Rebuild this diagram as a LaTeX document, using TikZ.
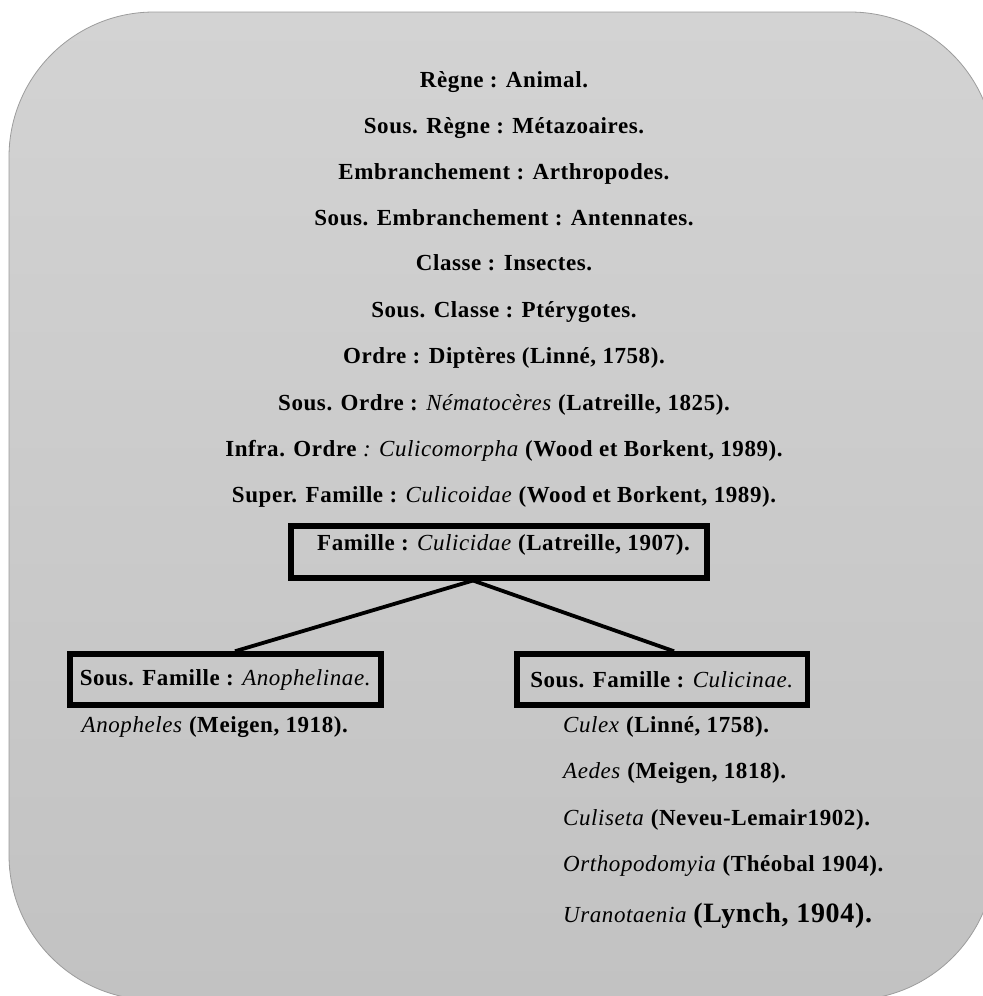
\documentclass[tikz,border=0pt]{standalone}
\usepackage{fontspec}
\setmainfont{Liberation Serif}
\newfontfamily\reffont[LetterSpace=2.5]{Liberation Serif}
\usetikzlibrary{calc}
\definecolor{bgtop}{HTML}{D3D3D3}
\definecolor{bgbot}{HTML}{C2C2C2}
\definecolor{bgedge}{HTML}{9C9C9C}
\begin{document}
\begin{tikzpicture}[x=1bp,y=-1bp,
  txt/.style={font=\reffont\fontsize{23bp}{27bp}\selectfont\bfseries, inner sep=0pt, anchor=base},
  ctr/.style={txt},
  lft/.style={txt, anchor=base west},
  taxbox/.style={draw=black, line width=5.5bp, inner sep=0pt, font=\reffont\fontsize{23bp}{27bp}\selectfont\bfseries},
  link/.style={draw=black, line width=3.8bp}
]
\useasboundingbox (0,0) rectangle (983,996);
\begin{scope}
\clip (0,0) rectangle (983,996);
\path[top color=bgtop, bottom color=bgbot, draw=bgedge, line width=0.8bp, rounded corners=145bp]
  (9,12) rectangle (995,1000);
\end{scope}
\node[ctr] (l1) at (504,87) {Règne : Animal.};
\node[ctr] (l2) at (504,133.5) {Sous. Règne : Métazoaires.};
\node[ctr] (l3) at (504,179) {Embranchement : Arthropodes.};
\node[ctr] (l4) at (504,225) {Sous. Embranchement : Antennates.};
\node[ctr] (l5) at (504,270.5) {Classe : Insectes.};
\node[ctr] (l6) at (504,317) {Sous. Classe : Ptérygotes.};
\node[ctr] (l7) at (504,363) {Ordre : Diptères (Linné, 1758).};
\node[ctr] (l8) at (504,410) {Sous. Ordre : \textit{\mdseries Nématocères} (Latreille, 1825).};
\node[ctr] (l9) at (504,456) {Infra. Ordre\textit{\mdseries\ : Culicomorpha} (Wood et Borkent, 1989).};
\node[ctr] (l10) at (504,502) {Super. Famille : \textit{\mdseries Culicoidae} (Wood et Borkent, 1989).};
\node[taxbox, minimum width=416bp, text height=25bp, text depth=27bp, anchor=north] (fam) at (499,523)
  {\hspace*{9bp}Famille : \textit{\mdseries Culicidae} (Latreille, 1907).};
\node[taxbox, minimum width=311bp, minimum height=51bp] (anoph) at (225.5,679.5)
  {Sous. Famille : \textit{\mdseries Anophelinae.}};
\node[taxbox, minimum width=290.5bp, minimum height=51bp] (culic) at (662,679.5)
  {Sous. Famille : \textit{\mdseries Culicinae.}};
\draw[link] ([xshift=-26bp]fam.south) -- ([xshift=9.5bp]anoph.north);
\draw[link] ([xshift=-26bp]fam.south) -- ([xshift=12bp]culic.north);
\node[lft] (g1) at (81.5,732) {\textit{\mdseries Anopheles} (Meigen, 1918).};
\node[lft] (g2) at (563,732) {\textit{\mdseries Culex} (Linné, 1758).};
\node[lft] (g3) at (563,778) {\textit{\mdseries Aedes} (Meigen, 1818).};
\node[lft] (g4) at (563,825) {\textit{\mdseries Culiseta} (Neveu-Lemair1902).};
\node[lft] (g5) at (563,871) {\textit{\mdseries Orthopodomyia} (Théobal 1904).};
\node[lft] (g6) at (563,922) {\textit{\mdseries Uranotaenia} {\fontsize{28bp}{31bp}\selectfont (Lynch, 1904).}};
\end{tikzpicture}
\end{document}
